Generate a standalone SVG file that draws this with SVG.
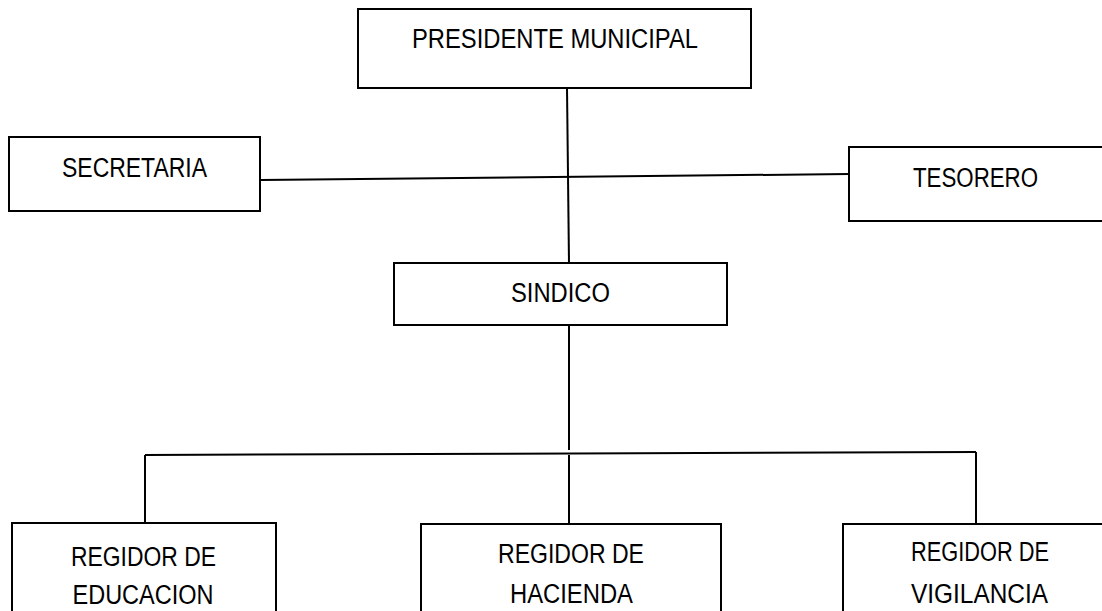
<svg xmlns="http://www.w3.org/2000/svg" width="1102" height="611" viewBox="0 0 1102 611">
<style>
.box{fill:#fff;stroke:#000;stroke-width:2}
.ln{stroke:#000;stroke-width:2;fill:none}
text{font-family:"Liberation Sans","Open Sans",Arial,sans-serif;font-size:27px;fill:#000;text-anchor:middle}
</style>
<rect width="1102" height="611" fill="#fff"/>
<g id="connectors">
<line class="ln" x1="567" y1="88" x2="569" y2="263"/>
<line class="ln" x1="261" y1="180" x2="849" y2="174"/>
<line class="ln" x1="569" y1="325" x2="569" y2="450"/>
<line class="ln" x1="145" y1="455" x2="976" y2="452"/>
<line class="ln" x1="145" y1="455" x2="145" y2="523"/>
<line class="ln" x1="569" y1="455" x2="569" y2="524"/>
<line class="ln" x1="976" y1="452" x2="976" y2="524"/>
</g>
<g id="presidente">
<rect class="box" x="358" y="9" width="393" height="79"/>
<text x="555" y="48" textLength="286" lengthAdjust="spacingAndGlyphs">PRESIDENTE MUNICIPAL</text>
</g>
<g id="secretaria">
<rect class="box" x="9" y="137" width="251" height="74"/>
<text x="134.5" y="177" textLength="145" lengthAdjust="spacingAndGlyphs">SECRETARIA</text>
</g>
<g id="tesorero">
<rect class="box" x="849" y="147" width="260" height="74"/>
<text x="975.5" y="187" textLength="125" lengthAdjust="spacingAndGlyphs">TESORERO</text>
</g>
<g id="sindico">
<rect class="box" x="394" y="263" width="333" height="62"/>
<text x="560.5" y="302" textLength="99" lengthAdjust="spacingAndGlyphs">SINDICO</text>
</g>
<g id="educacion">
<rect class="box" x="12" y="523" width="264" height="100"/>
<text x="143.5" y="566" textLength="145" lengthAdjust="spacingAndGlyphs">REGIDOR DE</text>
<text x="143" y="604" textLength="141" lengthAdjust="spacingAndGlyphs">EDUCACION</text>
</g>
<g id="hacienda">
<rect class="box" x="421" y="524" width="300" height="100"/>
<text x="571" y="563" textLength="146" lengthAdjust="spacingAndGlyphs">REGIDOR DE</text>
<text x="571.5" y="603" textLength="123" lengthAdjust="spacingAndGlyphs">HACIENDA</text>
</g>
<g id="vigilancia">
<rect class="box" x="843" y="524" width="280" height="100"/>
<text x="980" y="561" textLength="138" lengthAdjust="spacingAndGlyphs">REGIDOR DE</text>
<text x="979.5" y="603" textLength="137" lengthAdjust="spacingAndGlyphs">VIGILANCIA</text>
</g>
</svg>
